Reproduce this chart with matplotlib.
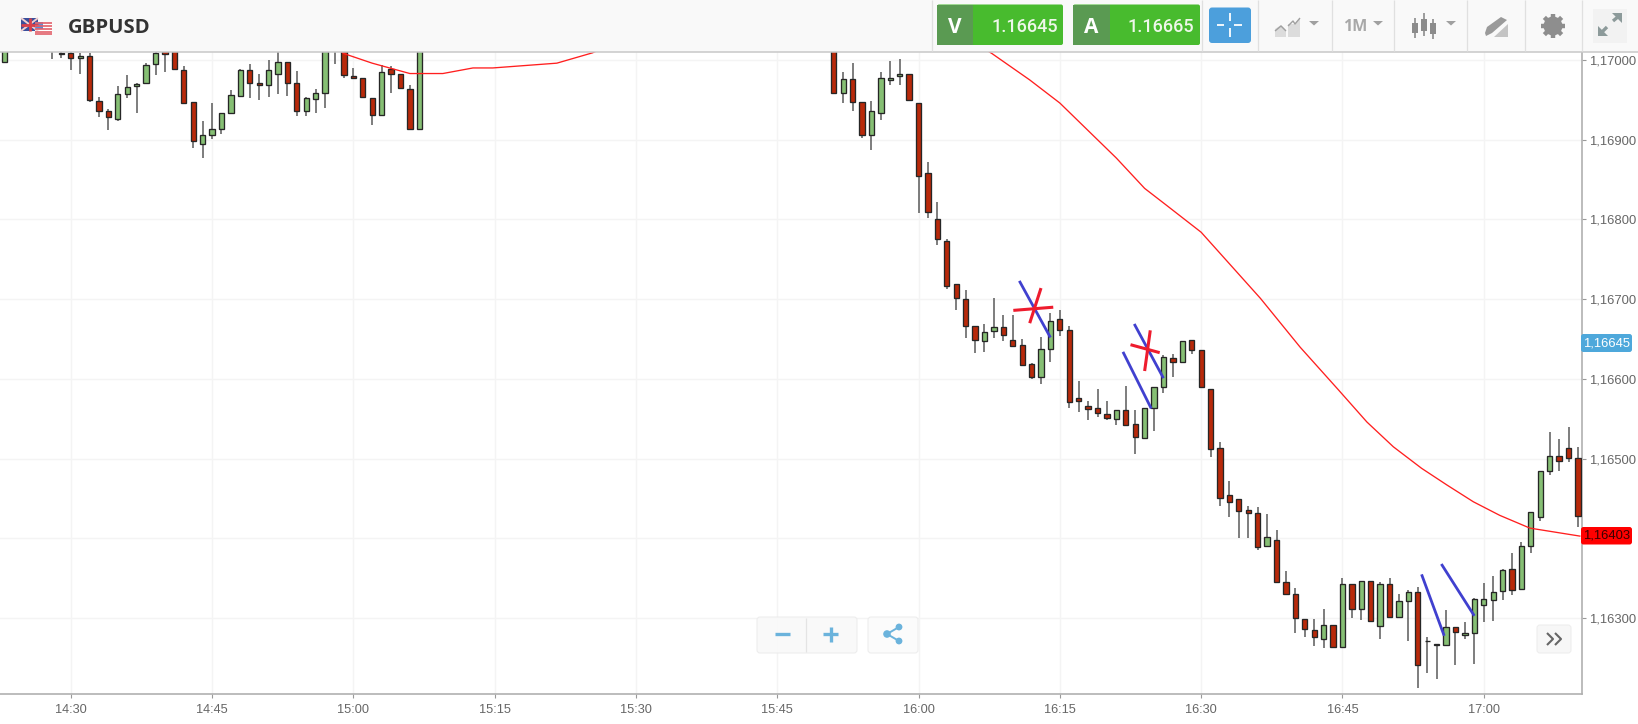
import matplotlib
matplotlib.use("Agg")
import matplotlib.pyplot as plt
from matplotlib.patches import Rectangle, FancyBboxPatch, Circle, Polygon
import numpy as np

W, H = 1638, 724
AX_L, AX_R, AX_T, AX_B = 0, 1582, 52, 694

# minutes since midnight (16:00 = 960); prices in units of 0.00001
minutes = [863] + list(range(868, 908)) + list(range(951, 1031))
opens = [116998,
 117012,117007,117009,117002,117005,116948,116936,116926,116957,116967,116971,116995,117011,117011,116988,
 116947,116895,116906,116914,116934,116955,116987,116971,116968,116982,116998,116971,116936,116951,116958,
 117015,117011,116980,116978,116952,116931,116989,116982,116964,116914,
 117030,116959,116976,116947,116906,116933,116975,116980,116982,116946,116858,116801,116773,116719,116700,
 116666,116647,116660,116665,116649,116642,116619,116603,116638,116675,116662,116576,116566,116563,116556,
 116550,116561,116543,116526,116563,116590,116626,116621,116649,116636,116588,116514,116454,116450,116436,
 116432,116390,116398,116346,116330,116299,116285,116274,116291,116264,116343,116311,116347,116290,116343,
 116302,116322,116333,116272,116267,116266,116289,116279,116282,116316,116323,116334,116362,116337,116391,
 116427,116485,116504,116514,116501]
highs = [117025,
 117025,117015,117015,117009,117009,116954,116939,116967,116981,116971,116996,117015,117015,117015,116992,
 116947,116924,116946,116934,116962,116989,116995,116982,117000,117012,116998,116986,116953,116964,117015,
 117025,117015,116990,116978,116952,116994,116992,116982,116969,117025,
 117035,116985,116996,116947,116948,116985,116999,117001,116982,116946,116872,116822,116775,116719,116711,
 116666,116669,116701,116680,116680,116650,116620,116653,116683,116687,116667,116598,116573,116587,116573,
 116561,116591,116561,116563,116590,116630,116631,116648,116649,116636,116588,116521,116472,116450,116441,
 116440,116431,116411,116359,116338,116299,116299,116311,116291,116350,116343,116347,116347,116346,116351,
 116331,116335,116339,116277,116268,116310,116289,116295,116325,116344,116353,116362,116382,116395,116433,
 116485,116533,116525,116540,116515]
lows = [116998,
 117001,117002,116987,116982,116947,116929,116912,116923,116952,116934,116971,116981,116985,116987,116946,
 116890,116877,116901,116907,116942,116955,116952,116950,116953,116957,116955,116930,116930,116934,116940,
 116995,116978,116977,116953,116919,116931,116958,116964,116914,116914,
 116957,116946,116936,116902,116887,116925,116969,116969,116950,116808,116802,116768,116713,116686,116652,
 116632,116634,116651,116648,116641,116618,116600,116594,116621,116654,116564,116559,116549,116552,116549,
 116542,116542,116506,116526,116535,116583,116603,116621,116631,116590,116502,116441,116427,116400,116400,
 116385,116390,116344,116330,116281,116276,116265,116263,116264,116264,116300,116298,116296,116274,116302,
 116302,116271,116212,116231,116224,116266,116241,116274,116243,116295,116296,116323,116329,116337,116382,
 116422,116479,116485,116496,116415]
closes = [117020,
 117020,117009,117003,117005,116950,116936,116929,116957,116966,116970,116994,117009,117007,116989,116946,
 116898,116906,116913,116934,116956,116987,116971,116968,116987,116998,116971,116936,116952,116958,117011,
 117020,116981,116977,116953,116931,116985,116983,116965,116914,117020,
 116959,116976,116947,116906,116936,116978,116978,116982,116950,116855,116809,116776,116717,116701,116667,
 116649,116659,116665,116655,116641,116618,116602,116638,116673,116661,116571,116573,116562,116557,116551,
 116561,116542,116527,116563,116590,116628,116621,116648,116636,116590,116512,116451,116446,116435,116432,
 116389,116402,116345,116330,116300,116286,116276,116292,116264,116343,116311,116347,116297,116343,116302,
 116322,116333,116241,116272,116268,116289,116283,116282,116324,116324,116333,116360,116336,116391,116433,
 116484,116504,116497,116501,116428]

ma_minutes = [895,899,902,906,909.5,912.7,914.8,921.6,925.4,935,958,967.8,971.8,975,981,984,986.3,990,
              996.3,1000.5,1004.6,1007.6,1010.4,1013.4,1016.1,1018.9,1021.7,1024.9,1030.2]
ma_values = [117040,117008,116996,116983,116983,116990,116990,116996,117009,117060,117080,117008,116975,116946,
             116877,116839,116818,116784,116701,116640,116586,116546,116515,116488,116467,116446,116429,116413,116403]

# hand-drawn strokes: (minute start, price start, minute end, price end)
blue_strokes = [(970.7,116723,974,116652),(982.9,116669,986,116601),(981.7,116634,984.7,116563),
                (1013.4,116355,1015.8,116278),(1015.5,116368,1019,116303)]
red_strokes = [(970.06,116686,974.3,116690),(971.8,116670,973,116714),
               (982.5,116643,985.6,116633),(984.6,116661,984,116610)]

x_ticks = list(range(870, 1021, 15))
y_ticks = list(range(116300, 117001, 100))
hidden_y_label = 116400  # covered by the red price tag in the reference
symbol = "GBPUSD"
bid, ask = "1.16645", "1.16665"
bid_tag, ma_tag = "1,16645", "1,16403"

fig = plt.figure(figsize=(W/100, H/100), dpi=100, facecolor="white")
ax = fig.add_axes([AX_L/W, 1-AX_B/H, (AX_R-AX_L)/W, (AX_B-AX_T)/H])
ax.set_xlim(862.49, 1030.43)
ax.set_ylim(1.16205, 1.17010)
m = np.array(minutes)
o, h, l, c = [np.array(a)/1e5 for a in (opens, highs, lows, closes)]
up = c >= o
ax.grid(True, color="#f4f4f4", lw=1.0)
ax.set_axisbelow(True)
ax.vlines(m, l, h, color="#5a5a5a", lw=1.1, zorder=2)
ax.bar(m, np.abs(c-o), bottom=np.minimum(o, c), width=0.56,
       color=np.where(up, "#86bf74", "#b8290a"), edgecolor="#262626", linewidth=0.95, zorder=3)
ax.plot(ma_minutes, np.array(ma_values)/1e5, color="#ff1f1f", lw=0.95, zorder=4)
for a, b, c2, d in blue_strokes:
    ax.plot([a, c2], [b/1e5, d/1e5], color="#4040cf", lw=2.0, zorder=5, solid_capstyle="butt")
for a, b, c2, d in red_strokes:
    ax.plot([a, c2], [b/1e5, d/1e5], color="#ee1c2e", lw=2.2, zorder=6, solid_capstyle="butt")

ax.set_xticks(x_ticks)
ax.set_xticklabels([f"{t//60}:{t%60:02d}" for t in x_ticks], fontsize=9.2, family="Liberation Sans", color="#666666")
ax.set_yticks([v/1e5 for v in y_ticks])
ax.set_yticklabels(["" if v == hidden_y_label else f"{v/1e5:.5f}".replace(".", ",") for v in y_ticks],
                   fontsize=9.4, family="Liberation Sans", color="#666666")
ax.yaxis.tick_right()
ax.tick_params(axis="x", length=3, width=0.8, color="#999999", pad=4)
ax.tick_params(axis="y", length=3, width=0.8, color="#999999", pad=2)
for s in ("top", "left"):
    ax.spines[s].set_visible(False)
for s in ("bottom", "right"):
    ax.spines[s].set_color("#b0b0b0")
    ax.spines[s].set_linewidth(1.2)

# interface chrome in pixel space
ui = fig.add_axes([0, 0, 1, 1], zorder=10)
ui.set_xlim(0, W); ui.set_ylim(H, 0); ui.axis("off"); ui.patch.set_alpha(0)

def rect(x0, y0, x1, y1, col, **kw):
    ui.add_patch(Rectangle((x0, y0), x1-x0, y1-y0, fc=col, ec="none", **kw))
def rrect(x0, y0, x1, y1, col, r=3, ec="none", **kw):
    ui.add_patch(FancyBboxPatch((x0+r, y0+r), x1-x0-2*r, y1-y0-2*r, boxstyle=f"round,pad={r}",
                                fc=col, ec=ec, lw=0.8, **kw))
def line(xs, ys, col, lw=1.0, **kw):
    ui.plot(xs, ys, color=col, lw=lw, solid_capstyle="butt", **kw)
def tri(x0, x1, y0, y1, col="#a0a0a0"):
    ui.add_patch(Polygon([(x0, y0), (x1, y0), ((x0+x1)/2, y1)], fc=col, ec="none"))

rect(0, 0, W, 51.5, "#f9f9f9")
line([0, W], [52, 52], "#c8c8c8", 1.1)
for sx in (932, 1202, 1258, 1332, 1394, 1467, 1525, 1582):
    line([sx, sx], [0, 51], "#e0e0e0", 0.9)

# flags
rect(21, 18, 38, 31, "#3b4f9c")
line([21, 38], [18, 31], "#f0d0d0", 1.4); line([21, 38], [31, 18], "#f0d0d0", 1.4)
line([29.5, 29.5], [18, 31], "#d8404a", 2.0); line([21, 38], [24.5, 24.5], "#d8404a", 2.0)
rect(35, 22, 52, 35, "#ffffff")
for yy in (23, 26, 29, 32, 34.4):
    line([35, 52], [yy, yy], "#e2606a", 1.2)
rect(35, 22, 43, 29, "#5a8fd8")
ui.text(68, 28, symbol, fontsize=14.6, fontweight="bold", family="Open Sans", color="#333333", va="center", ha="left")

# bid / ask buttons
for x0, x1, xm, letter, val, xt in ((937, 1063, 973, "V", bid, 1025), (1073, 1200, 1110, "A", ask, 1160.5)):
    rrect(x0, 4.5, x1, 45, "#48bb2e", r=2)
    rect(x0, 4.5, xm, 45, "#5a9a52")
    ui.text((x0+xm)/2-0.5, 27.5, letter, color="white", fontsize=15, fontweight="bold",
            family="Open Sans", ha="center", va="center")
    ui.text(xt, 27, val, color="#eef7ea", fontsize=13, fontweight="medium",
            family="Roboto", ha="center", va="center")
rrect(1209, 7.5, 1251, 43, "#4c9fdc", r=3)
line([1229.5, 1229.5], [13, 21], "white", 1.3); line([1229.5, 1229.5], [28, 37], "white", 1.3)
line([1216.5, 1224], [25, 25], "white", 1.3); line([1234, 1241.5], [25, 25], "white", 1.3)

# chart type icon
ui.add_patch(Polygon([(1275, 37), (1275, 29), (1281, 25), (1286, 30), (1286, 37)], fc="#dcdcdc", ec="none"))
ui.add_patch(Polygon([(1288, 37), (1288, 24), (1294, 24), (1300, 18), (1300, 37)], fc="#dcdcdc", ec="none"))
line([1275, 1281, 1286], [31, 26, 31], "#a0a0a0", 1.0)
line([1288, 1293, 1295, 1300], [26, 21, 24, 18], "#a0a0a0", 1.0)
tri(1309, 1319, 21, 25.5)
ui.text(1355.5, 27, "1M", color="#a8a8a8", fontsize=11.5, fontweight="bold", family="Open Sans", ha="center", va="center")
tri(1373, 1383, 21, 25.5)
# candlestick icon
for cx, y0, y1, b0, b1 in ((1415, 18, 38, 23, 33), (1424, 13, 36, 19, 31), (1433, 19, 39, 23, 34)):
    line([cx, cx], [y0, y1], "#8c8c8c", 1.2)
    rect(cx-3, b0, cx+3, b1, "#8c8c8c")
tri(1446, 1456, 21, 25.5)
# draw icon
ui.add_patch(Polygon([(1485, 33), (1487, 27), (1501, 17), (1507, 20), (1492, 33), (1486, 36)], fc="#9a9a9a", ec="none"))
ui.add_patch(Polygon([(1494, 37), (1508, 24), (1508, 37)], fc="#c4c4c4", ec="none"))
# gear
for ang in np.arange(0, 180, 45):
    t = np.deg2rad(ang)
    dx, dy = 12.2*np.cos(t), 12.2*np.sin(t)
    line([1553-dx, 1553+dx], [26-dy, 26+dy], "#8e8e8e", 3.2)
ui.add_patch(Circle((1553, 26), 9.5, fc="#8e8e8e", ec="none"))
ui.add_patch(Circle((1553, 26), 4.2, fc="#f9f9f9", ec="none"))
# expand
rect(1593, 9, 1627, 43, "#f2f2f2")
line([1601, 1607], [33, 27], "#8c9a9a", 2.4); line([1613, 1619], [21, 16], "#8c9a9a", 2.4)
ui.add_patch(Polygon([(1598, 36), (1598, 26), (1608, 36)], fc="#8c9a9a", ec="none"))
ui.add_patch(Polygon([(1622, 13), (1612, 13), (1622, 23)], fc="#8c9a9a", ec="none"))

# axis price tags
rrect(1581, 334, 1632, 352, "#4ea8db", r=2.5)
ui.text(1606.5, 343, bid_tag, color="white", fontsize=9.4, family="Liberation Sans", ha="center", va="center")
rrect(1581, 527, 1632, 544.5, "#ff0000", r=2.5)
ui.text(1606.5, 535.8, ma_tag, color="#3a0000", fontsize=9.4, family="Liberation Sans", ha="center", va="center")

# zoom and share buttons
rrect(757, 617, 857, 653, "#f9f9f9", r=3, ec="#ececec", alpha=0.92)
line([806, 806], [618, 652], "#e4e4e4", 0.9)
line([775, 790], [634, 634], "#6bb3dc", 2.4)
line([823, 838], [634, 634], "#6bb3dc", 2.4); line([830.7, 830.7], [626.5, 641.5], "#6bb3dc", 2.4)
rrect(868, 617, 918, 653, "#fbfbfb", r=3, ec="#ececec", alpha=0.92)
line([887, 899], [634, 627], "#6bb3dc", 1.4); line([887, 899], [634, 641], "#6bb3dc", 1.4)
for cx, cy, rr in ((887, 634, 3.8), (899, 627, 3.4), (899, 641, 3.4)):
    ui.add_patch(Circle((cx, cy), rr, fc="#6bb3dc", ec="none"))
rrect(1537, 625, 1571, 653, "#f7f7f7", r=3, ec="#eeeeee")
line([1547, 1553, 1547], [633, 639, 645], "#666666", 1.5)
line([1555, 1561, 1555], [633, 639, 645], "#666666", 1.5)

fig.savefig("out.png", dpi=100)
